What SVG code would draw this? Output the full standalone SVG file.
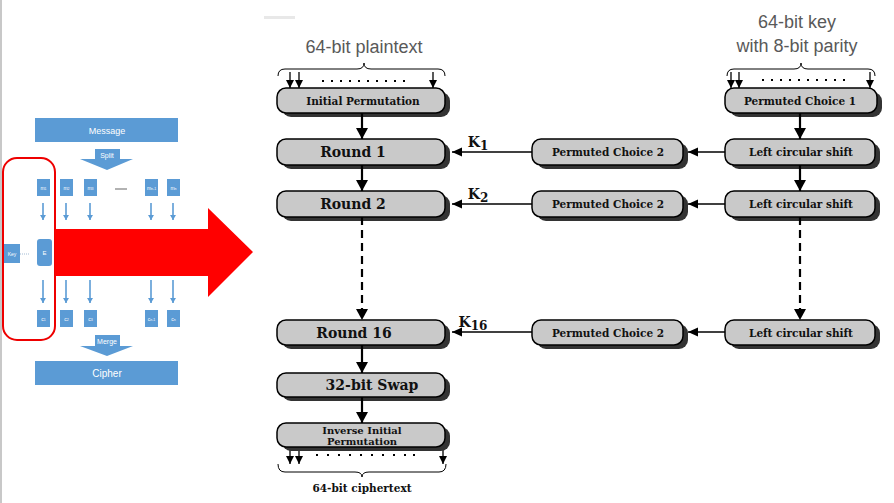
<svg xmlns="http://www.w3.org/2000/svg" width="894" height="503" viewBox="0 0 894 503">
<style>
.box{fill:#c9c9c9;stroke:#000;stroke-width:1.5}
.sh{fill:#333}
.bt{font-family:"DejaVu Serif","Liberation Serif",serif;font-weight:bold;fill:#111;text-anchor:middle}
.s11{font-size:10.5px}
.s14{font-size:14px}
.gt{font-family:"Liberation Sans",Arial,sans-serif;font-size:18px;fill:#595959;text-anchor:middle}
.thick{stroke:#000;stroke-width:2.2;fill:none}
.thin{stroke:#000;stroke-width:1.5;fill:none}
.dash{stroke-dasharray:8 5}
.in{stroke:#000;stroke-width:1.3;fill:none}
.brace{stroke:#000;stroke-width:1;fill:none}
.blue{fill:#5b9bd5}
.wt{font-family:"Liberation Sans",Arial,sans-serif;fill:#fff;text-anchor:middle}
.barr{stroke:#5b9bd5;stroke-width:1.6;fill:none}
</style>
<defs>
<marker id="ah" markerUnits="userSpaceOnUse" markerWidth="12" markerHeight="12" refX="11" refY="6" orient="auto"><path d="M0,0 L11,6 L0,12 z" fill="#000"/></marker>
<marker id="ahs" markerUnits="userSpaceOnUse" markerWidth="10" markerHeight="10" refX="10" refY="4.5" orient="auto"><path d="M0,0 L10,4.5 L0,9 z" fill="#000"/></marker>
<marker id="ahi" markerUnits="userSpaceOnUse" markerWidth="9" markerHeight="8" refX="8" refY="4" orient="auto"><path d="M0,0 L8,4 L0,8 z" fill="#000"/></marker>
<marker id="ahb" markerUnits="userSpaceOnUse" markerWidth="6" markerHeight="6" refX="5" refY="3" orient="auto"><path d="M0,0 L5,3 L0,6 z" fill="#5b9bd5"/></marker>
</defs>

<rect x="0" y="0" width="2" height="503" fill="#c8c8c8"/>
<rect x="264" y="16" width="31" height="3" fill="#e8e8e8"/>

<!-- left mini diagram -->
<g id="mini">
<rect class="blue" x="35" y="118" width="143" height="24"/>
<text class="wt" x="107" y="134" font-size="9">Message</text>
<polygon class="blue" points="95,149 120,149 120,159 133,159 107,170 80,159 95,159"/>
<text class="wt" x="107" y="158" font-size="7">Split</text>
<rect x="3" y="158" width="52" height="182" rx="14" fill="none" stroke="#e00" stroke-width="2"/>
<g font-size="5">
<rect class="blue" x="37" y="179" width="13" height="17"/><text class="wt" x="43.5" y="190">m<tspan font-size="3.5">1</tspan></text>
<rect class="blue" x="60" y="179" width="13" height="17"/><text class="wt" x="66.5" y="190">m<tspan font-size="3.5">2</tspan></text>
<rect class="blue" x="84" y="179" width="13" height="17"/><text class="wt" x="90.5" y="190">m<tspan font-size="3.5">3</tspan></text>
<rect class="blue" x="145" y="179" width="13" height="17"/><text class="wt" x="151.5" y="190">m<tspan font-size="3.5">n-1</tspan></text>
<rect class="blue" x="167" y="179" width="13" height="17"/><text class="wt" x="173.5" y="190">m<tspan font-size="3.5">n</tspan></text>
</g>
<line x1="115" y1="189" x2="127" y2="189" stroke="#999" stroke-width="1.5"/>
<g class="barr">
<line x1="43" y1="203" x2="43" y2="220" marker-end="url(#ahb)"/>
<line x1="66" y1="203" x2="66" y2="220" marker-end="url(#ahb)"/>
<line x1="90" y1="203" x2="90" y2="220" marker-end="url(#ahb)"/>
<line x1="151" y1="203" x2="151" y2="220" marker-end="url(#ahb)"/>
<line x1="173" y1="203" x2="173" y2="220" marker-end="url(#ahb)"/>
<line x1="43" y1="280" x2="43" y2="303" marker-end="url(#ahb)"/>
<line x1="66" y1="280" x2="66" y2="303" marker-end="url(#ahb)"/>
<line x1="90" y1="280" x2="90" y2="303" marker-end="url(#ahb)"/>
<line x1="151" y1="280" x2="151" y2="303" marker-end="url(#ahb)"/>
<line x1="173" y1="280" x2="173" y2="303" marker-end="url(#ahb)"/>
</g>
<rect class="blue" x="4" y="244" width="16" height="19"/>
<text class="wt" x="12" y="256" font-size="5">Key</text>
<line x1="20" y1="254" x2="30" y2="254" stroke="#8aa9c9" stroke-width="0.8" stroke-dasharray="1 1"/>
<rect class="blue" x="37" y="239" width="15" height="27" rx="3"/>
<text class="wt" x="44.5" y="255" font-size="6">E</text>
<g font-size="5">
<rect class="blue" x="37" y="310" width="13" height="17"/><text class="wt" x="43.5" y="321">c<tspan font-size="3.5">1</tspan></text>
<rect class="blue" x="60" y="310" width="13" height="17"/><text class="wt" x="66.5" y="321">c<tspan font-size="3.5">2</tspan></text>
<rect class="blue" x="84" y="310" width="13" height="17"/><text class="wt" x="90.5" y="321">c<tspan font-size="3.5">3</tspan></text>
<rect class="blue" x="145" y="310" width="13" height="17"/><text class="wt" x="151.5" y="321">c<tspan font-size="3.5">n-1</tspan></text>
<rect class="blue" x="167" y="310" width="13" height="17"/><text class="wt" x="173.5" y="321">c<tspan font-size="3.5">n</tspan></text>
</g>
<polygon class="blue" points="95,335 120,335 120,346 133,346 107,356 80,346 95,346"/>
<text class="wt" x="107" y="344" font-size="7">Merge</text>
<rect class="blue" x="35" y="361" width="143" height="24"/>
<text class="wt" x="107" y="377" font-size="10">Cipher</text>
<polygon points="55,229 208,229 208,208 253,252 208,297 208,276 55,276" fill="#ff0000"/>
</g>

<!-- captions -->
<text class="gt" x="364" y="53">64-bit plaintext</text>
<text class="gt" x="797" y="28">64-bit key</text>
<text class="gt" x="797" y="52">with 8-bit parity</text>
<text class="bt s11" x="362" y="492">64-bit ciphertext</text>

<!-- braces, dots, input arrows -->
<g id="io">
<path class="brace" d="M278,76 Q278,69 285,69 L357,69 Q364,69 364,63 Q364,69 371,69 L438,69 Q445,69 445,76"/>
<path class="brace" d="M727,76 Q727,69 734,69 L794,69 Q801,69 801,63 Q801,69 808,69 L868,69 Q875,69 875,76"/>
<path class="brace" d="M278,464 Q278,472 285,472 L355,472 Q362,472 362,477 Q362,472 369,472 L439,472 Q446,472 446,464"/>
<g fill="#000">
<rect x="322" y="80" width="2" height="2"/><rect x="331" y="80" width="2" height="2"/><rect x="340" y="80" width="2" height="2"/><rect x="349" y="80" width="2" height="2"/><rect x="358" y="80" width="2" height="2"/><rect x="367" y="80" width="2" height="2"/><rect x="376" y="80" width="2" height="2"/><rect x="385" y="80" width="2" height="2"/><rect x="394" y="80" width="2" height="2"/><rect x="403" y="80" width="2" height="2"/>
<rect x="762" y="79" width="2" height="2"/><rect x="771" y="79" width="2" height="2"/><rect x="780" y="79" width="2" height="2"/><rect x="789" y="79" width="2" height="2"/><rect x="798" y="79" width="2" height="2"/><rect x="807" y="79" width="2" height="2"/><rect x="816" y="79" width="2" height="2"/><rect x="825" y="79" width="2" height="2"/><rect x="834" y="79" width="2" height="2"/><rect x="843" y="79" width="2" height="2"/>
<rect x="316" y="454" width="2" height="2"/><rect x="327" y="454" width="2" height="2"/><rect x="338" y="454" width="2" height="2"/><rect x="349" y="454" width="2" height="2"/><rect x="360" y="454" width="2" height="2"/><rect x="371" y="454" width="2" height="2"/><rect x="382" y="454" width="2" height="2"/><rect x="393" y="454" width="2" height="2"/><rect x="404" y="454" width="2" height="2"/><rect x="413" y="454" width="2" height="2"/>
</g>
<g class="in">
<line x1="290" y1="72" x2="290" y2="88" marker-end="url(#ahi)"/>
<line x1="299" y1="72" x2="299" y2="88" marker-end="url(#ahi)"/>
<line x1="433" y1="72" x2="433" y2="88" marker-end="url(#ahi)"/>
<line x1="731" y1="72" x2="731" y2="88" marker-end="url(#ahi)"/>
<line x1="739" y1="72" x2="739" y2="88" marker-end="url(#ahi)"/>
<line x1="870" y1="72" x2="870" y2="88" marker-end="url(#ahi)"/>
<line x1="290" y1="447" x2="290" y2="464" marker-end="url(#ahi)"/>
<line x1="299" y1="447" x2="299" y2="464" marker-end="url(#ahi)"/>
<line x1="443" y1="447" x2="443" y2="464" marker-end="url(#ahi)"/>
</g>
</g>

<!-- nodes -->
<g id="ip"><rect class="sh" x="282" y="92" width="168" height="25" rx="9"/><rect class="box" x="277" y="88" width="168" height="25" rx="9"/><text class="bt s11" x="363" y="105">Initial Permutation</text></g>
<g id="r1"><rect class="sh" x="282" y="143" width="168" height="26" rx="9"/><rect class="box" x="277" y="139" width="168" height="26" rx="9"/><text class="bt s14" x="353" y="157">Round 1</text></g>
<g id="r2"><rect class="sh" x="282" y="195" width="168" height="26" rx="9"/><rect class="box" x="277" y="191" width="168" height="26" rx="9"/><text class="bt s14" x="353" y="209">Round 2</text></g>
<g id="r16"><rect class="sh" x="282" y="324" width="168" height="25" rx="9"/><rect class="box" x="277" y="320" width="168" height="25" rx="9"/><text class="bt s14" x="354" y="338">Round 16</text></g>
<g id="swap"><rect class="sh" x="282" y="377" width="168" height="24" rx="9"/><rect class="box" x="277" y="373" width="168" height="24" rx="9"/><text class="bt s14" x="372" y="390">32-bit Swap</text></g>
<g id="iip"><rect class="sh" x="282" y="427" width="168" height="24" rx="9"/><rect class="box" x="277" y="423" width="168" height="24" rx="9"/><text class="bt" font-size="10" x="362" y="434">Inverse Initial</text><text class="bt" font-size="10" x="362" y="445">Permutation</text></g>
<g id="pc1"><rect class="sh" x="730" y="92" width="152" height="25" rx="9"/><rect class="box" x="725" y="88" width="152" height="25" rx="9"/><text class="bt s11" x="800" y="105">Permuted Choice 1</text></g>
<g id="lcs1"><rect class="sh" x="730" y="143" width="150" height="26" rx="9"/><rect class="box" x="725" y="139" width="150" height="26" rx="9"/><text class="bt s11" x="801" y="156">Left circular shift</text></g>
<g id="lcs2"><rect class="sh" x="730" y="195" width="150" height="26" rx="9"/><rect class="box" x="725" y="191" width="150" height="26" rx="9"/><text class="bt s11" x="801" y="208">Left circular shift</text></g>
<g id="lcs16"><rect class="sh" x="730" y="324" width="150" height="25" rx="9"/><rect class="box" x="725" y="320" width="150" height="25" rx="9"/><text class="bt s11" x="801" y="337">Left circular shift</text></g>
<g id="pc2a"><rect class="sh" x="537" y="143" width="151" height="26" rx="9"/><rect class="box" x="532" y="139" width="151" height="26" rx="9"/><text class="bt s11" x="608" y="156">Permuted Choice 2</text></g>
<g id="pc2b"><rect class="sh" x="537" y="195" width="151" height="26" rx="9"/><rect class="box" x="532" y="191" width="151" height="26" rx="9"/><text class="bt s11" x="608" y="208">Permuted Choice 2</text></g>
<g id="pc2c"><rect class="sh" x="537" y="324" width="151" height="25" rx="9"/><rect class="box" x="532" y="320" width="151" height="25" rx="9"/><text class="bt s11" x="608" y="337">Permuted Choice 2</text></g>

<!-- connectors -->
<g id="connectors">
<line class="thick" x1="362" y1="113" x2="362" y2="139" marker-end="url(#ah)"/>
<line class="thick" x1="362" y1="165" x2="362" y2="191" marker-end="url(#ah)"/>
<line class="thick dash" x1="362" y1="217" x2="362" y2="320" marker-end="url(#ah)"/>
<line class="thick" x1="362" y1="345" x2="362" y2="373" marker-end="url(#ah)"/>
<line class="thick" x1="362" y1="397" x2="362" y2="423" marker-end="url(#ah)"/>
<line class="thick" x1="800" y1="113" x2="800" y2="139" marker-end="url(#ah)"/>
<line class="thick" x1="800" y1="165" x2="800" y2="191" marker-end="url(#ah)"/>
<line class="thick dash" x1="800" y1="217" x2="800" y2="320" marker-end="url(#ah)"/>
<line class="thin" x1="725" y1="152" x2="688" y2="152" marker-end="url(#ahs)"/>
<line class="thin" x1="532" y1="152" x2="452" y2="152" marker-end="url(#ahs)"/>
<line class="thin" x1="725" y1="204" x2="688" y2="204" marker-end="url(#ahs)"/>
<line class="thin" x1="532" y1="204" x2="452" y2="204" marker-end="url(#ahs)"/>
<line class="thin" x1="725" y1="332" x2="688" y2="332" marker-end="url(#ahs)"/>
<line class="thin" x1="532" y1="332" x2="452" y2="332" marker-end="url(#ahs)"/>
<text class="bt" font-size="14" x="478" y="147" text-anchor="start">K<tspan font-size="12" dy="3">1</tspan></text>
<text class="bt" font-size="14" x="478" y="199" text-anchor="start">K<tspan font-size="12" dy="3">2</tspan></text>
<text class="bt" font-size="14" x="473" y="327" text-anchor="start">K<tspan font-size="12" dy="3">16</tspan></text>
</g>
</svg>
